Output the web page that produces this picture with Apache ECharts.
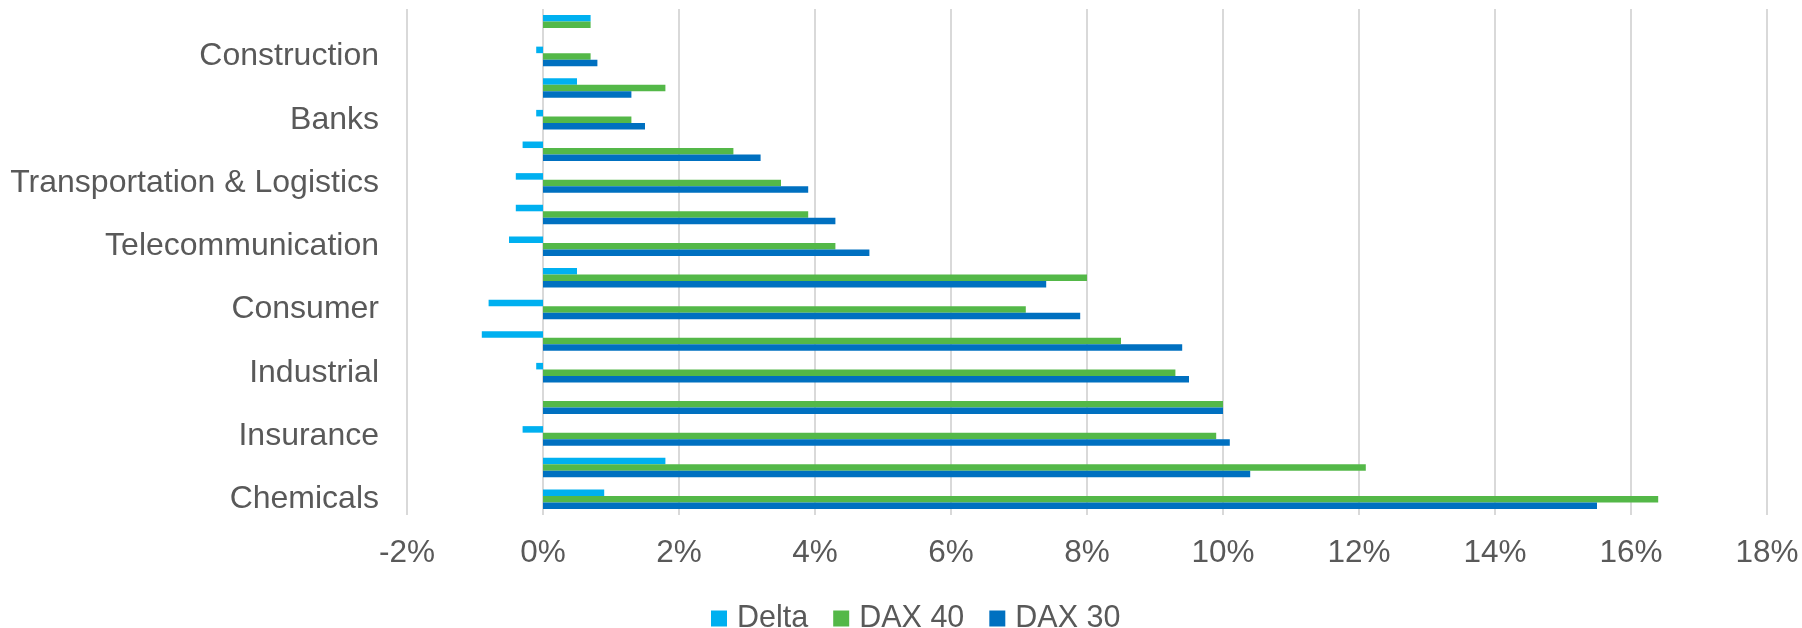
<!DOCTYPE html>
<html>
<head>
<meta charset="utf-8">
<script src="https://cdn.jsdelivr.net/npm/echarts@6/dist/echarts.min.js"></script>
<style>
html,body{margin:0;padding:0;background:#fff;}
#chart{width:1802px;height:628px;}
</style>
</head>
<body>
<div id="chart"></div>
<script>
// Categories listed top to bottom (only every second label is shown in the reference)
const categories = ["Real Estate", "Construction", "Media", "Banks", "Retail", "Transportation & Logistics", "Technology", "Telecommunication", "Automobile", "Consumer", "Software", "Industrial", "Utilities", "Insurance", "Pharma & Healthcare", "Chemicals"];
const shownLabels = ["Construction", "Banks", "Transportation & Logistics", "Telecommunication", "Consumer", "Industrial", "Insurance", "Chemicals"];
const delta = [0.7, -0.1, 0.5, -0.1, -0.3, -0.4, -0.4, -0.5, 0.5, -0.8, -0.9, -0.1, 0.0, -0.3, 1.8, 0.9];
const dax40 = [0.7, 0.7, 1.8, 1.3, 2.8, 3.5, 3.9, 4.3, 8.0, 7.1, 8.5, 9.3, 10.0, 9.9, 12.1, 16.4];
const dax30 = [0.0, 0.8, 1.3, 1.5, 3.2, 3.9, 4.3, 4.8, 7.4, 7.9, 9.4, 9.5, 10.0, 10.1, 10.4, 15.5];
const seriesNames = ["Delta", "DAX 40", "DAX 30"];
const xMin = -2, xMax = 18, xStep = 2;

const font = "'Liberation Sans', Arial, sans-serif";
const textColor = "#595959";
const colors = ["#00B0F0", "#54B848", "#0070C0"];

const chart = echarts.init(document.getElementById('chart'), null, {renderer: 'canvas'});
chart.setOption({
  animation: false,
  color: colors,
  grid: {left: 407, right: 35, top: 9, bottom: 113, containLabel: false},
  xAxis: {
    type: 'value',
    min: xMin, max: xMax, interval: xStep,
    axisLine: {show: false},
    axisTick: {show: false},
    splitLine: {show: true, lineStyle: {color: '#d9d9d9', width: 2}},
    axisLabel: {
      formatter: v => v + '%',
      color: textColor, fontSize: 31.5, fontFamily: font, margin: 22
    }
  },
  yAxis: {
    type: 'category',
    inverse: true,
    data: categories,
    axisLine: {show: false},
    axisTick: {show: false},
    splitLine: {show: false},
    axisLabel: {
      interval: (i, v) => shownLabels.indexOf(v) >= 0,
      color: textColor, fontSize: 32, fontFamily: font, margin: 28
    }
  },
  legend: {
    data: seriesNames,
    left: 706, top: 598,
    itemWidth: 16, itemHeight: 16, itemGap: 25,
    icon: 'rect',
    textStyle: {color: textColor, fontSize: 30.5, fontFamily: font, padding: [0, 0, 0, 5]}
  },
  series: [
    {name: seriesNames[0], type: 'bar', data: delta, barGap: '0%', barCategoryGap: '38%'},
    {name: seriesNames[1], type: 'bar', data: dax40, barGap: '0%', barCategoryGap: '38%'},
    {name: seriesNames[2], type: 'bar', data: dax30, barGap: '0%', barCategoryGap: '38%'}
  ]
});
</script>
</body>
</html>
